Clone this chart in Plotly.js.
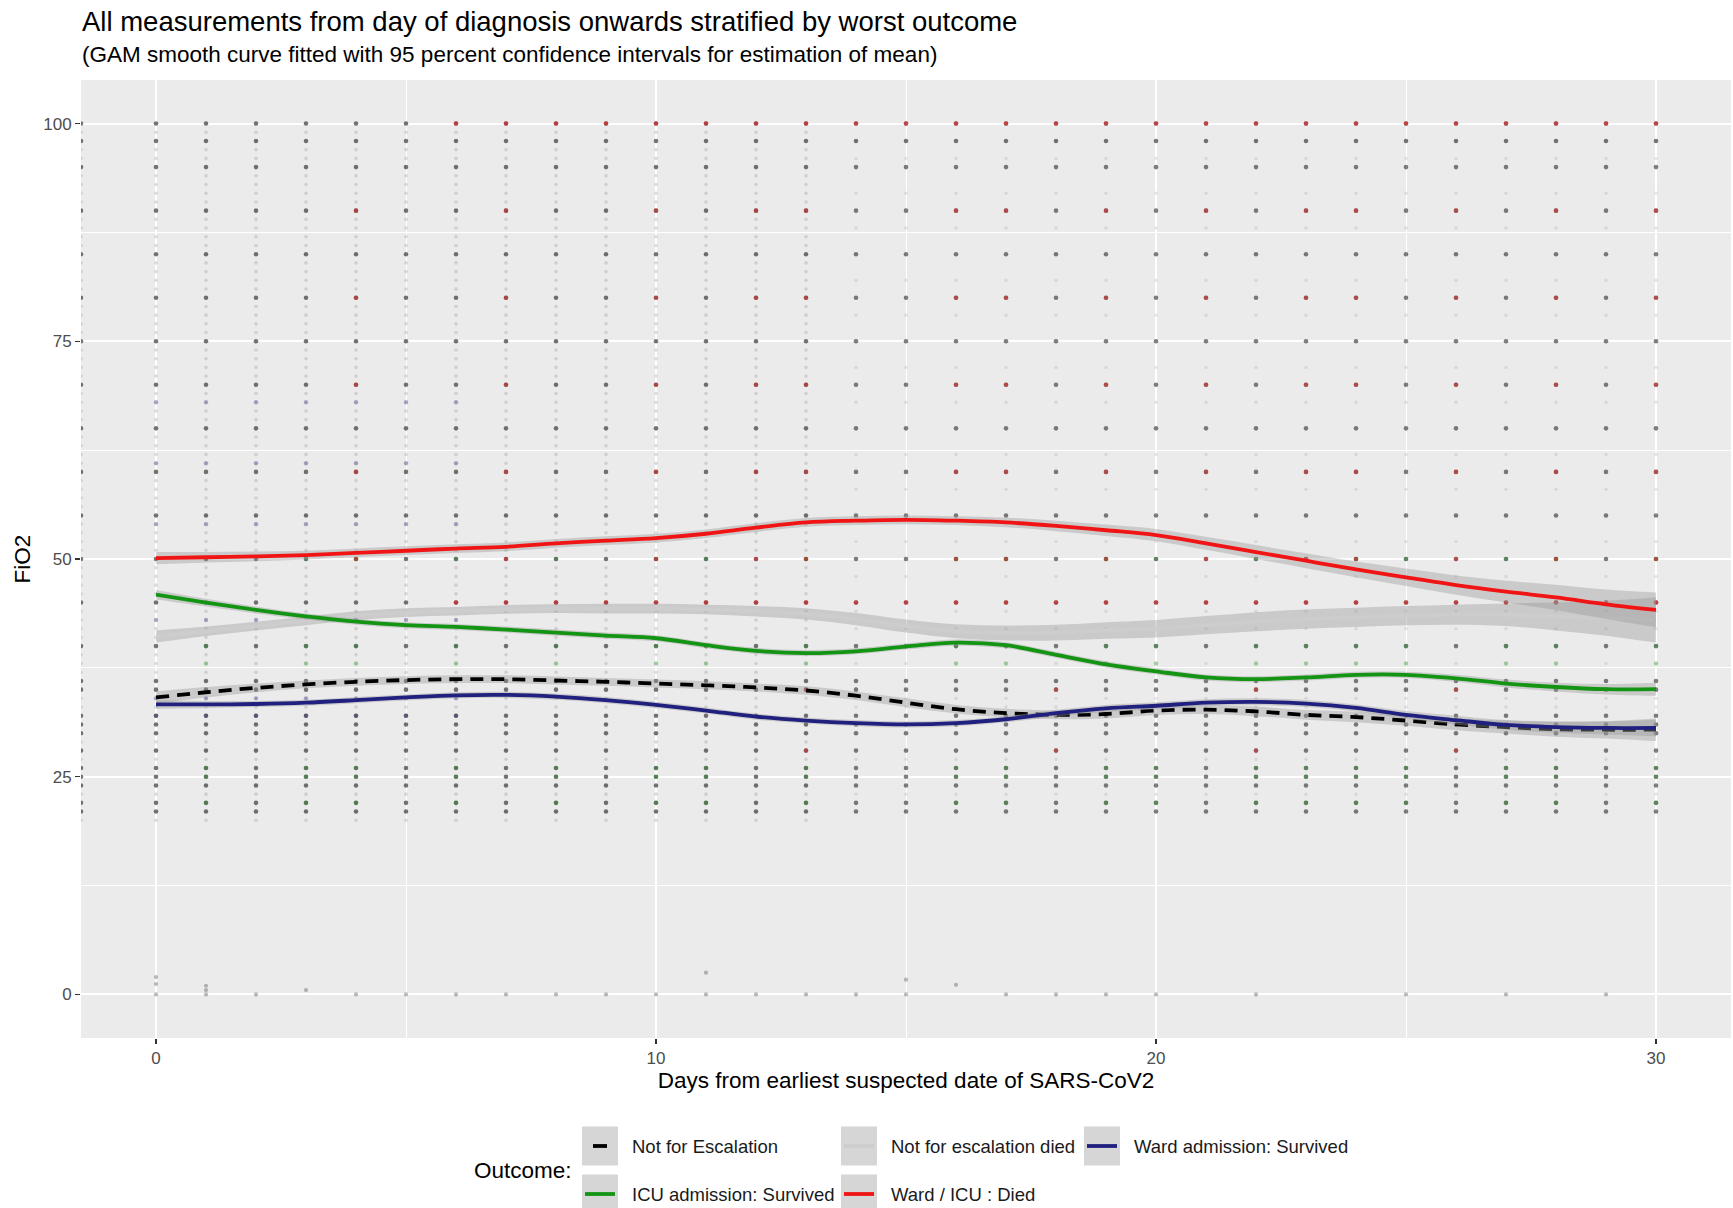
<!DOCTYPE html>
<html>
<head>
<meta charset="utf-8">
<script src="https://cdn.plot.ly/plotly-3.0.1.min.js"></script>
<style>html,body{margin:0;padding:0;background:#fff;}#chart{width:1733px;height:1208px;}</style>
</head>
<body>
<div id="chart"></div>
<script>
// ---------------- DATA ----------------
const days = [0,1,2,3,4,5,6,7,8,9,10,11,12,13,14,15,16,17,18,19,20,21,22,23,24,25,26,27,28,29,30];
const edgeDay = [-1.5];
const earlyDays = [0,1,2,3,4,5,6,7,8,9,10,11,12,13];
const lateDays = [14,15,16,17,18,19,20,21,22,23,24,25,26,27,28,29,30];

// smoothed means (GAM) by outcome
const meanNotEsc     = [34.1,34.7,35.2,35.6,35.9,36.1,36.2,36.2,36.05,35.9,35.7,35.5,35.25,34.9,34.3,33.5,32.75,32.3,32.1,32.2,32.6,32.7,32.5,32.1,31.85,31.45,31.0,30.7,30.45,30.4,30.4];
const meanNotEscDied = [41.1,41.7,42.3,42.9,43.5,43.85,44.0,44.2,44.3,44.3,44.3,44.2,44.0,43.7,43.1,42.3,41.7,41.5,41.55,41.8,42.0,42.4,42.8,43.1,43.3,43.5,43.6,43.6,43.4,43.2,43.0];
const meanWardSurv   = [33.3,33.3,33.35,33.5,33.8,34.1,34.35,34.4,34.2,33.8,33.25,32.6,31.9,31.45,31.15,31.0,31.15,31.6,32.3,32.85,33.15,33.5,33.6,33.4,32.9,32.1,31.5,30.95,30.7,30.6,30.6];
const meanIcuSurv    = [45.9,45.0,44.15,43.4,42.8,42.4,42.2,41.9,41.55,41.2,40.9,40.1,39.45,39.2,39.4,39.95,40.4,40.1,39.0,37.9,37.1,36.4,36.2,36.4,36.7,36.7,36.3,35.7,35.3,35.05,35.05];
const meanDied       = [50.1,50.2,50.3,50.45,50.7,50.95,51.2,51.4,51.8,52.1,52.4,52.9,53.6,54.2,54.4,54.5,54.4,54.2,53.8,53.3,52.75,51.8,50.8,49.8,48.8,47.9,47.0,46.25,45.6,44.8,44.15];

// 95% CI half-widths
const ciNotEsc     = [0.7,0.6,0.5,0.45,0.45,0.45,0.45,0.45,0.45,0.45,0.45,0.45,0.45,0.5,0.5,0.5,0.5,0.5,0.5,0.5,0.5,0.5,0.55,0.55,0.6,0.6,0.65,0.75,0.85,1.0,1.3];
const ciNotEscDied = [0.7,0.55,0.5,0.5,0.5,0.5,0.5,0.5,0.5,0.55,0.55,0.55,0.6,0.65,0.7,0.75,0.8,0.85,0.9,0.95,1.0,1.05,1.1,1.1,1.1,1.1,1.15,1.3,1.6,2.0,2.6];
const ciWardSurv   = [0.5,0.4,0.35,0.35,0.35,0.35,0.35,0.35,0.35,0.35,0.35,0.35,0.35,0.35,0.35,0.35,0.35,0.35,0.4,0.4,0.4,0.4,0.4,0.4,0.4,0.45,0.5,0.55,0.65,0.75,0.95];
const ciIcuSurv    = [0.55,0.45,0.4,0.35,0.35,0.35,0.35,0.35,0.35,0.35,0.35,0.35,0.35,0.35,0.35,0.35,0.35,0.35,0.35,0.35,0.35,0.35,0.35,0.35,0.35,0.35,0.4,0.45,0.5,0.6,0.75];
const ciDied       = [0.7,0.6,0.55,0.5,0.5,0.5,0.5,0.5,0.5,0.5,0.5,0.5,0.5,0.5,0.5,0.5,0.5,0.55,0.6,0.65,0.7,0.75,0.8,0.85,0.9,1.0,1.1,1.25,1.45,1.7,2.0];

// FiO2 levels where measurements appear (points)
const denseLevels = [21,22,24,25,26,28,30,31,32,35,36,40,45,50,55,60,65,70,75,80,85,90,95,98,100];
const allLevels = [20,21,22,23,24,25,26,27,28,29,30,31,32,33,34,35,36,37,38,39,40,41,42,43,44,45,46,47,48,49,50,51,52,53,54,55,56,57,58,59,60,61,62,63,64,65,66,67,68,69,70,71,72,73,74,75,76,77,78,79,80,81,82,83,84,85,86,87,88,89,90,91,92,93,94,95,96,97,98,99,100];
const lateSparseLevels = [23,27,33,34,38,42,44,48,52,58,62,68,72,78,82,88,92,96,98];
const diedLevelsA = [100,45];
const diedDaysA = [6,7,8,9,10,11,12,13,14,15,16,17,18,19,20,21,22,23,24,25,26,27,28,29,30];
const diedLevelsB = [90,80,70,60,50];
const diedDaysB = [4,7,10,12,13,16,17,19,21,23,24,26,28,30];
const diedLevelsC = [28,35];
const diedDaysC = [13,18,22,26];
const icuLevels = [22,25,26,38,40,50];
const icuDays = [1,3,4,6,8,10,11,13,16,17,19,20,22,23,24,25,27,28,30];
const wardLevels = [32,34,43,54,61,68];
const wardDays = [0,1,2,3,4,5,6];
const zeroX = [0,0,0,1,1,1,2,3,4,5,6,7,8,9,10,11,11,12,13,14,15,15,16,17,18,19,20,22,25,27,29];
const zeroY = [0,1.2,2,0,0.5,1,0,0.5,0,0,0,0,0,0,0,0,2.5,0,0,0,0,1.7,1.1,0,0,0,0,0,0,0,0];

const outcomeNames = ["Not for Escalation","Not for escalation died","Ward admission: Survived","ICU admission: Survived","Ward / ICU : Died"];

// ---------------- BUILD ----------------
const colNotEsc = "#000000", colNotEscDied = "#cdcdcd", colWard = "#20207f", colIcu = "#139413", colDied = "#f01414";
function cross(ds, ls){ const x=[],y=[]; ds.forEach(d=>ls.forEach(l=>{x.push(d);y.push(l);})); return {x,y}; }
function pts(c, color, op, size){ return {type:"scatter", mode:"markers", x:c.x, y:c.y, hoverinfo:"skip", showlegend:false,
  marker:{color:color, opacity:op, size:size, line:{width:0}}}; }

const traces = [];
traces.push(pts(cross(edgeDay.concat(earlyDays), allLevels), "#8a8a8a", 0.28, 3.6));
traces.push(pts(cross(lateDays, lateSparseLevels), "#9a9a9a", 0.25, 3.4));
traces.push(pts(cross(edgeDay.concat(days), denseLevels), "#2a2a2a", 0.6, 4.6));
traces.push(pts(cross(icuDays, icuLevels), colIcu, 0.3, 4.6));
traces.push(pts(cross(wardDays, wardLevels), colWard, 0.3, 4.4));
traces.push(pts(cross(diedDaysA, diedLevelsA), colDied, 0.55, 4.6));
traces.push(pts(cross(diedDaysB, diedLevelsB), colDied, 0.45, 4.6));
traces.push(pts(cross(diedDaysC, diedLevelsC), colDied, 0.4, 4.6));
traces.push(pts({x:zeroX, y:zeroY}, "#555555", 0.4, 4.2));

function smooth(name, mean, ci, color, dash){
  const up = mean.map((m,i)=>m+ci[i]), lo = mean.map((m,i)=>m-ci[i]);
  traces.push({type:"scatter", mode:"lines", x:days, y:up, line:{width:0, shape:"spline"}, hoverinfo:"skip", showlegend:false});
  traces.push({type:"scatter", mode:"lines", x:days, y:lo, line:{width:0, shape:"spline"}, fill:"tonexty", fillcolor:"rgba(153,153,153,0.4)", hoverinfo:"skip", showlegend:false});
  traces.push({type:"scatter", mode:"lines", name:name, x:days, y:mean, line:{color:color, width:3.8, shape:"spline", dash:dash||"solid"}, showlegend:false});
}
smooth(outcomeNames[0], meanNotEsc, ciNotEsc, colNotEsc, "13px,8px");
smooth(outcomeNames[1], meanNotEscDied, ciNotEscDied, colNotEscDied);
smooth(outcomeNames[2], meanWardSurv, ciWardSurv, colWard);
smooth(outcomeNames[3], meanIcuSurv, ciIcuSurv, colIcu);
smooth(outcomeNames[4], meanDied, ciDied, colDied);

// ---------------- LAYOUT ----------------
const L=81, R=1731, T=80, B=1038;
const px = X => (X-L)/(R-L);
const py = Y => (B-Y)/(B-T);
const FONT = "Liberation Sans, Arial, sans-serif";

const shapes = [], annotations = [];
annotations.push({xref:"paper", yref:"paper", x:px(80), y:py(21), xanchor:"left", yanchor:"middle", showarrow:false,
  text:"All measurements from day of diagnosis onwards stratified by worst outcome", font:{family:FONT, size:27.5, color:"#000"}});
annotations.push({xref:"paper", yref:"paper", x:px(80), y:py(55), xanchor:"left", yanchor:"middle", showarrow:false,
  text:"(GAM smooth curve fitted with 95 percent confidence intervals for estimation of mean)", font:{family:FONT, size:22.5, color:"#000"}});

// legend (manual, ggplot-style)
annotations.push({xref:"paper", yref:"paper", x:px(472), y:py(1170), xanchor:"left", yanchor:"middle", showarrow:false,
  text:"Outcome:", font:{family:FONT, size:22.5, color:"#000"}});
const keyDefs = [
  {name:outcomeNames[0], color:colNotEsc, dash:"dash", kx:582, tx:630, cy:1146},
  {name:outcomeNames[1], color:colNotEscDied, dash:"solid", kx:841, tx:889, cy:1146},
  {name:outcomeNames[2], color:colWard, dash:"solid", kx:1084, tx:1132, cy:1146},
  {name:outcomeNames[3], color:colIcu, dash:"solid", kx:582, tx:630, cy:1194},
  {name:outcomeNames[4], color:colDied, dash:"solid", kx:841, tx:889, cy:1194}
];
keyDefs.forEach(k=>{
  shapes.push({type:"rect", xref:"paper", yref:"paper", x0:px(k.kx), x1:px(k.kx+36), y0:py(k.cy-19.5), y1:py(k.cy+19.5),
    fillcolor:"#d6d6d6", line:{width:0}, layer:"above"});
  if (k.dash==="dash") {
    shapes.push({type:"line", xref:"paper", yref:"paper", x0:px(k.kx+11), x1:px(k.kx+25), y0:py(k.cy), y1:py(k.cy), line:{color:k.color, width:3.8}, layer:"above"});
  } else {
    shapes.push({type:"line", xref:"paper", yref:"paper", x0:px(k.kx+3), x1:px(k.kx+33), y0:py(k.cy), y1:py(k.cy), line:{color:k.color, width:3.8}, layer:"above"});
  }
  annotations.push({xref:"paper", yref:"paper", x:px(k.tx), y:py(k.cy), xanchor:"left", yanchor:"middle", showarrow:false,
    text:k.name, font:{family:FONT, size:18.5, color:"#1a1a1a"}});
});

const layout = {
  width:1733, height:1208,
  margin:{l:L, r:1733-R, t:T, b:1208-B, pad:0},
  paper_bgcolor:"#ffffff", plot_bgcolor:"#ebebeb",
  font:{family:FONT},
  showlegend:false,
  xaxis:{range:[-1.5,31.5], tickvals:[0,10,20,30], ticktext:["0","10","20","30"], showgrid:true, gridcolor:"#ffffff", gridwidth:2,
    minor:{tickvals:[5,15,25], showgrid:true, gridcolor:"#ffffff", gridwidth:1},
    zeroline:false, showline:false, ticks:"outside", ticklen:5, tickwidth:1.5, tickcolor:"#333333",
    tickfont:{family:FONT, size:17, color:"#4d4d4d"},
    title:{text:"Days from earliest suspected date of SARS-CoV2", font:{family:FONT, size:22.5, color:"#000"}, standoff:3}},
  yaxis:{range:[-5,105], tickvals:[0,25,50,75,100], ticktext:["0","25","50","75","100"], showgrid:true, gridcolor:"#ffffff", gridwidth:2,
    minor:{tickvals:[12.5,37.5,62.5,87.5], showgrid:true, gridcolor:"#ffffff", gridwidth:1},
    zeroline:false, showline:false, ticks:"outside", ticklen:5, tickwidth:1.5, tickcolor:"#333333",
    tickfont:{family:FONT, size:17, color:"#4d4d4d"},
    title:{text:"FiO2", font:{family:FONT, size:22.5, color:"#000"}, standoff:6}},
  shapes:shapes, annotations:annotations
};

Plotly.newPlot("chart", traces, layout, {displayModeBar:false, staticPlot:true});
</script>
</body>
</html>
